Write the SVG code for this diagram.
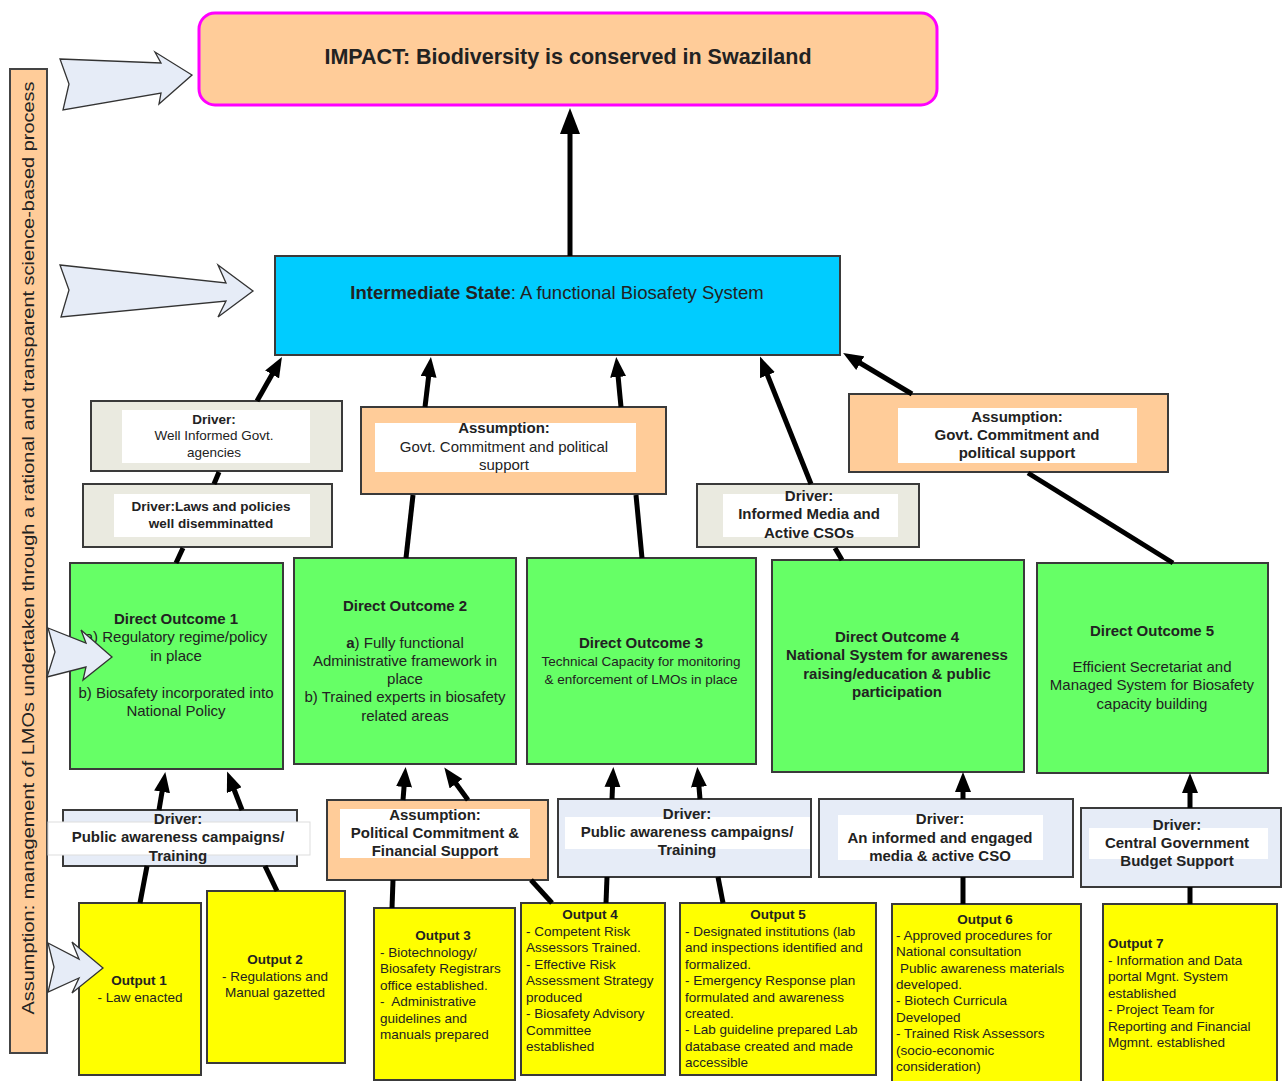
<svg xmlns="http://www.w3.org/2000/svg" width="1282" height="1081" viewBox="0 0 1282 1081">
<style>
text{font-family:"Liberation Sans",Arial,sans-serif;fill:#222;}
.b{font-weight:bold;}
.c{text-anchor:middle;}
.f21{font-size:21.5px;}
.f17{font-size:18.5px;}
.f15{font-size:15px;}
.f13{font-size:13.5px;}
.box{stroke:#3a3a3a;stroke-width:2;}
.org{fill:#FFCC99;}
.grn{fill:#66FF66;}
.yel{fill:#FFFF00;}
.dgr{fill:#EAEAE0;}
.dbl{fill:#E6ECF7;}
.wht{fill:#FFFFFF;stroke:none;}
.ln{stroke:#000;stroke-width:5;fill:none;}
.blk{fill:#E6ECF7;stroke:#333;stroke-width:1.3;}
</style>
<defs>
<marker id="ah" viewBox="0 0 20 16" markerWidth="20" markerHeight="16" refX="12" refY="8" orient="auto" markerUnits="userSpaceOnUse"><path d="M0,0 L20,8 L0,16 Z" fill="#000"/></marker>
<marker id="ahL" viewBox="0 0 26 20" markerWidth="26" markerHeight="20" refX="16" refY="10" orient="auto" markerUnits="userSpaceOnUse"><path d="M0,0 L26,10 L0,20 Z" fill="#000"/></marker>
</defs>

<g id="side-assumption">
<rect x="10" y="69" width="37" height="984" class="org" stroke="#444" stroke-width="2"/>
<text transform="translate(34,548) rotate(-90)" class="c" font-size="17" textLength="933" lengthAdjust="spacingAndGlyphs">Assumption: management of LMOs undertaken through a rational and transparent science-based process</text>
</g>

<g id="impact">
<rect x="199" y="13" width="738" height="92" rx="16" fill="#FFCC99" stroke="#FF00FF" stroke-width="3"/>
<text x="568" y="64" class="c b f21">IMPACT: Biodiversity is conserved in Swaziland</text>
</g>

<g id="intermediate">
<rect x="275" y="256" width="565" height="99" fill="#00CCFF" class="box"/>
<text x="557" y="299" class="c f17"><tspan class="b">Intermediate State</tspan>: A functional Biosafety System</text>
</g>

<g id="driver-well-informed">
<rect x="91" y="401" width="251" height="70" class="box dgr"/>
<rect x="122" y="410" width="188" height="53" class="wht"/>
<text class="c f13" x="214"><tspan x="214" y="424" class="b">Driver:</tspan><tspan x="214" y="440">Well Informed Govt.</tspan><tspan x="214" y="457">agencies</tspan></text>
</g>

<g id="driver-laws">
<rect x="83" y="484" width="249" height="63" class="box dgr"/>
<rect x="114" y="494" width="196" height="43" class="wht"/>
<text class="c b f13"><tspan x="211" y="511">Driver:Laws and policies</tspan><tspan x="211" y="528">well disemminatted</tspan></text>
</g>

<g id="assumption-1">
<rect x="361" y="407" width="305" height="87" class="box org"/>
<rect x="375" y="423" width="261" height="49" class="wht"/>
<text class="c f15"><tspan x="504" y="433" class="b">Assumption:</tspan><tspan x="504" y="452">Govt. Commitment and political</tspan><tspan x="504" y="470">support</tspan></text>
</g>

<g id="assumption-2">
<rect x="849" y="394" width="319" height="78" class="box org"/>
<rect x="898" y="408" width="239" height="55" class="wht"/>
<text class="c b f15"><tspan x="1017" y="422">Assumption:</tspan><tspan x="1017" y="440">Govt. Commitment and</tspan><tspan x="1017" y="458">political support</tspan></text>
</g>

<g id="driver-media">
<rect x="697" y="484" width="222" height="63" class="box dgr"/>
<rect x="723" y="494" width="175" height="43" class="wht"/>
<text class="c b f15"><tspan x="809" y="501">Driver:</tspan><tspan x="809" y="519">Informed Media and</tspan><tspan x="809" y="538">Active CSOs</tspan></text>
</g>

<g id="direct-outcome-1">
<rect x="70" y="563" width="213" height="206" class="box grn"/>
<text class="c f15"><tspan x="176" y="624" class="b">Direct Outcome 1</tspan><tspan x="176" y="642">a) Regulatory regime/policy</tspan><tspan x="176" y="661">in place</tspan><tspan x="176" y="698">b) Biosafety incorporated into</tspan><tspan x="176" y="716">National Policy</tspan></text>
</g>

<g id="direct-outcome-2">
<rect x="294" y="558" width="222" height="206" class="box grn"/>
<text class="c f15"><tspan x="405" y="611" class="b">Direct Outcome 2</tspan><tspan x="405" y="648"><tspan class="b">a</tspan>) Fully functional</tspan><tspan x="405" y="666">Administrative framework in</tspan><tspan x="405" y="684">place</tspan><tspan x="405" y="702">b) Trained experts in biosafety</tspan><tspan x="405" y="721">related areas</tspan></text>
</g>

<g id="direct-outcome-3">
<rect x="527" y="558" width="229" height="206" class="box grn"/>
<text class="c"><tspan x="641" y="648" class="b f15">Direct Outcome 3</tspan><tspan x="641" y="666" class="f13">Technical Capacity for monitoring</tspan><tspan x="641" y="684" class="f13">&amp; enforcement of LMOs in place</tspan></text>
</g>

<g id="direct-outcome-4">
<rect x="772" y="560" width="252" height="212" class="box grn"/>
<text class="c b f15"><tspan x="897" y="642">Direct Outcome 4</tspan><tspan x="897" y="660">National System for awareness</tspan><tspan x="897" y="679">raising/education &amp; public</tspan><tspan x="897" y="697">participation</tspan></text>
</g>

<g id="direct-outcome-5">
<rect x="1037" y="563" width="231" height="210" class="box grn"/>
<text class="c f15"><tspan x="1152" y="636" class="b">Direct Outcome 5</tspan><tspan x="1152" y="672">Efficient Secretariat and</tspan><tspan x="1152" y="690">Managed System for Biosafety</tspan><tspan x="1152" y="709">capacity building</tspan></text>
</g>

<g id="driver-public-awareness-1">
<rect x="63" y="810" width="234" height="56" class="box dbl"/>
<rect x="48" y="822" width="262" height="33" fill="#fff" stroke="#ddd" stroke-width="1"/>
<text class="c b f15"><tspan x="178" y="824">Driver:</tspan><tspan x="178" y="842">Public awareness campaigns/</tspan><tspan x="178" y="861">Training</tspan></text>
</g>

<g id="assumption-political">
<rect x="327" y="800" width="221" height="80" class="box org"/>
<rect x="340" y="809" width="190" height="49" class="wht"/>
<text class="c b f15"><tspan x="435" y="820">Assumption:</tspan><tspan x="435" y="838">Political Commitment &amp;</tspan><tspan x="435" y="856">Financial Support</tspan></text>
</g>

<g id="driver-public-awareness-2">
<rect x="558" y="799" width="253" height="78" class="box dbl"/>
<rect x="565" y="817" width="245" height="32" class="wht"/>
<text class="c b f15"><tspan x="687" y="819">Driver:</tspan><tspan x="687" y="837">Public awareness campaigns/</tspan><tspan x="687" y="855">Training</tspan></text>
</g>

<g id="driver-informed-media">
<rect x="819" y="799" width="254" height="78" class="box dbl"/>
<rect x="838" y="815" width="205" height="45" class="wht"/>
<text class="c b f15"><tspan x="940" y="824">Driver:</tspan><tspan x="940" y="843">An informed and engaged</tspan><tspan x="940" y="861">media &amp; active CSO</tspan></text>
</g>

<g id="driver-central-government">
<rect x="1081" y="808" width="200" height="79" class="box dbl"/>
<rect x="1089" y="828" width="179" height="31" class="wht"/>
<text class="c b f15"><tspan x="1177" y="830">Driver:</tspan><tspan x="1177" y="848">Central Government</tspan><tspan x="1177" y="866">Budget Support</tspan></text>
</g>

<g id="output-1">
<rect x="79" y="903" width="122" height="172" class="box yel"/>
<text class="c f13"><tspan x="139" y="985" class="b">Output 1</tspan><tspan x="140" y="1002">- Law enacted</tspan></text>
</g>

<g id="output-2">
<rect x="207" y="891" width="138" height="172" class="box yel"/>
<text class="c f13"><tspan x="275" y="964" class="b">Output 2</tspan><tspan x="275" y="981">- Regulations and</tspan><tspan x="275" y="997">Manual gazetted</tspan></text>
</g>

<g id="output-3">
<rect x="374" y="908" width="141" height="172" class="box yel"/>
<text class="f13" xml:space="preserve"><tspan x="443" y="940" class="b c">Output 3</tspan><tspan x="380" y="957">- Biotechnology/</tspan><tspan x="380" y="973">Biosafety Registrars</tspan><tspan x="380" y="990">office established.</tspan><tspan x="380" y="1006">-  Administrative</tspan><tspan x="380" y="1023">guidelines and</tspan><tspan x="380" y="1039">manuals prepared</tspan></text>
</g>

<g id="output-4">
<rect x="521" y="903" width="144" height="172" class="box yel"/>
<text class="f13"><tspan x="590" y="919" class="b c">Output 4</tspan><tspan x="526" y="936">- Competent Risk</tspan><tspan x="526" y="952">Assessors Trained.</tspan><tspan x="526" y="969">- Effective Risk</tspan><tspan x="526" y="985">Assessment Strategy</tspan><tspan x="526" y="1002">produced</tspan><tspan x="526" y="1018">- Biosafety Advisory</tspan><tspan x="526" y="1035">Committee</tspan><tspan x="526" y="1051">established</tspan></text>
</g>

<g id="output-5">
<rect x="680" y="903" width="196" height="172" class="box yel"/>
<text class="f13"><tspan x="778" y="919" class="b c">Output 5</tspan><tspan x="685" y="936">- Designated institutions (lab</tspan><tspan x="685" y="952">and inspections identified and</tspan><tspan x="685" y="969">formalized.</tspan><tspan x="685" y="985">- Emergency Response plan</tspan><tspan x="685" y="1002">formulated and awareness</tspan><tspan x="685" y="1018">created.</tspan><tspan x="685" y="1034">- Lab guideline prepared Lab</tspan><tspan x="685" y="1051">database created and made</tspan><tspan x="685" y="1067">accessible</tspan></text>
</g>

<g id="output-6">
<rect x="892" y="904" width="189" height="180" class="box yel"/>
<text class="f13"><tspan x="985" y="924" class="b c">Output 6</tspan><tspan x="896" y="940">- Approved procedures for</tspan><tspan x="896" y="956">National consultation</tspan><tspan x="900" y="973">Public awareness materials</tspan><tspan x="896" y="989">developed.</tspan><tspan x="896" y="1005">- Biotech Curricula</tspan><tspan x="896" y="1022">Developed</tspan><tspan x="896" y="1038">- Trained Risk Assessors</tspan><tspan x="896" y="1055">(socio-economic</tspan><tspan x="896" y="1071">consideration)</tspan></text>
</g>

<g id="output-7">
<rect x="1103" y="904" width="174" height="180" class="box yel"/>
<text class="f13"><tspan x="1108" y="948" class="b">Output 7</tspan><tspan x="1108" y="965">- Information and Data</tspan><tspan x="1108" y="981">portal Mgnt. System</tspan><tspan x="1108" y="998">established</tspan><tspan x="1108" y="1014">- Project Team for</tspan><tspan x="1108" y="1031">Reporting and Financial</tspan><tspan x="1108" y="1047">Mgmnt. established</tspan></text>
</g>

<g id="connectors">
<line class="ln" x1="570" y1="256" x2="570" y2="118" marker-end="url(#ahL)"/>
<line class="ln" x1="257" y1="401" x2="278" y2="364" marker-end="url(#ah)"/>
<line class="ln" x1="425" y1="407" x2="430" y2="365" marker-end="url(#ah)"/>
<line class="ln" x1="621" y1="407" x2="617" y2="365" marker-end="url(#ah)"/>
<line class="ln" x1="811" y1="484" x2="763" y2="364" marker-end="url(#ah)"/>
<line class="ln" x1="912" y1="394" x2="850" y2="357" marker-end="url(#ah)"/>
<line class="ln" x1="219" y1="472" x2="214" y2="484"/>
<line class="ln" x1="183" y1="548" x2="176" y2="563"/>
<line class="ln" x1="413" y1="495" x2="406" y2="558"/>
<line class="ln" x1="636" y1="495" x2="642" y2="558"/>
<line class="ln" x1="835" y1="548" x2="842" y2="560"/>
<line class="ln" x1="1028" y1="473" x2="1173" y2="563"/>
<line class="ln" x1="140" y1="903" x2="147" y2="866"/>
<line class="ln" x1="159" y1="810" x2="164" y2="780" marker-end="url(#ah)"/>
<line class="ln" x1="277" y1="891" x2="265" y2="866"/>
<line class="ln" x1="242" y1="810" x2="230" y2="779" marker-end="url(#ah)"/>
<line class="ln" x1="403" y1="800" x2="405" y2="775" marker-end="url(#ah)"/>
<line class="ln" x1="468" y1="800" x2="449" y2="774" marker-end="url(#ah)"/>
<line class="ln" x1="393" y1="880" x2="392" y2="908"/>
<line class="ln" x1="531" y1="880" x2="552" y2="903"/>
<line class="ln" x1="612" y1="799" x2="613" y2="775" marker-end="url(#ah)"/>
<line class="ln" x1="700" y1="799" x2="698" y2="775" marker-end="url(#ah)"/>
<line class="ln" x1="607" y1="877" x2="606" y2="903"/>
<line class="ln" x1="718" y1="877" x2="723" y2="903"/>
<line class="ln" x1="963" y1="799" x2="963" y2="780" marker-end="url(#ah)"/>
<line class="ln" x1="963" y1="904" x2="963" y2="877"/>
<line class="ln" x1="1190" y1="808" x2="1190" y2="781" marker-end="url(#ah)"/>
<line class="ln" x1="1190" y1="904" x2="1190" y2="887"/>
</g>

<g id="block-arrows">
<polygon class="blk" points="60,59 161,63 155,52 192,75 159,104 161,93 63,110 69,84"/>
<polygon class="blk" points="60,265 226,283 218,265 253,291 218,317 226,301 61,317 69,290"/>
<polygon class="blk" points="48,628 86,643 81,630 112,657 83,680 86,667 47,677 55,652"/>
<polygon class="blk" points="48,943 79,959 72,942 103,968 72,993 79,978 48,992 54,967"/>
</g>
</svg>
